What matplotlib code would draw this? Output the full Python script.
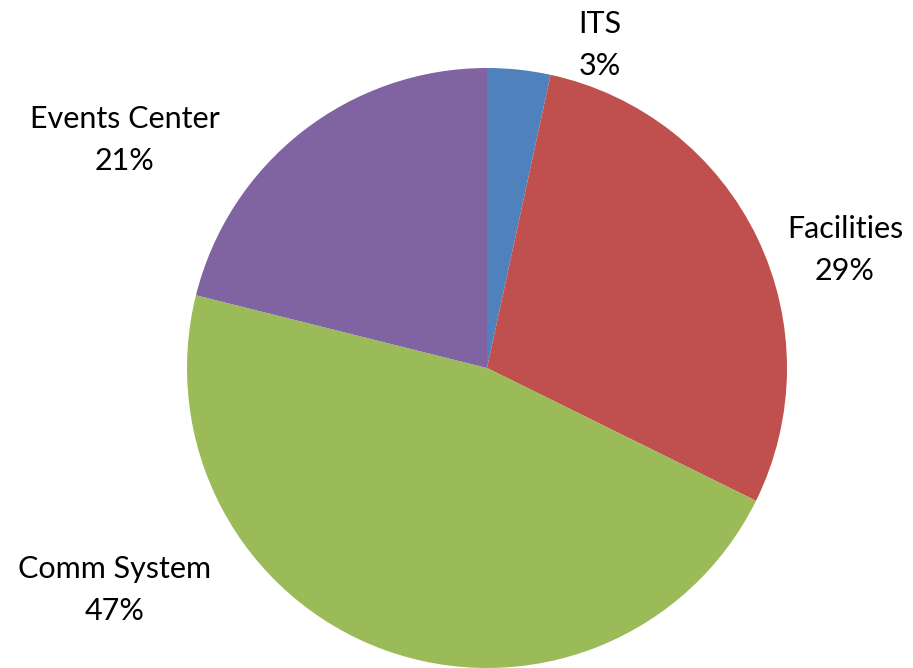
import matplotlib
matplotlib.use("Agg")
import matplotlib.pyplot as plt

# slice data (clockwise from 12 o'clock)
categories = ["ITS", "Facilities", "Comm System", "Events Center"]
values = [3.4, 28.9, 46.6, 21.1]
colors = ["#4F81BD", "#C0504D", "#9BBB59", "#8064A2"]

# label centres in axes data units
label_pos = [(0.377, 1.077), (1.193, 0.393), (-1.24, -0.74), (-1.207, 0.76)]

plt.rcParams['font.family'] = ['Lato', 'DejaVu Sans']

fig = plt.figure(figsize=(9.13, 6.68), dpi=100)
ax = fig.add_axes([187 / 913, 0.0, 600 / 913, 600 / 668])

ax.pie(values, colors=colors, startangle=90, counterclock=False,
       radius=1.0, wedgeprops=dict(linewidth=0))
ax.set_xlim(-1, 1)
ax.set_ylim(-1, 1)
ax.set_aspect('auto')
ax.axis('off')

for name, v, (x, y) in zip(categories, values, label_pos):
    ax.text(x, y, f"{name}\n{v:.0f}%", ha='center', va='center',
            fontsize=22, linespacing=1.6, clip_on=False, color='black')

fig.savefig("out.png", dpi=100)
